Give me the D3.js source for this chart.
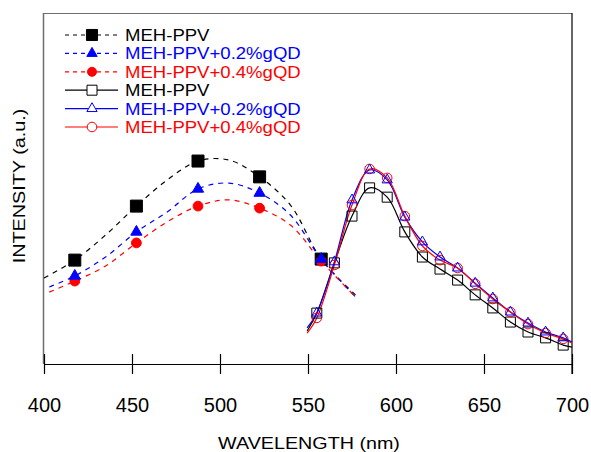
<!DOCTYPE html>
<html lang="en">
<head>
<meta charset="UTF-8">
<title>MEH-PPV absorption / PL</title>
<script src="https://d3js.org/d3.v7.min.js"></script>
<style>
    body, html {
        margin: 0;
        padding: 0;
        background: #fff;
        overflow: hidden;
    }
    svg text {
        font-family: "Liberation Sans", Arial, sans-serif;
    }
</style>
</head>
<body>
<div id="chart"></div>
<script>
// absorption spectra (dashed, filled markers)
const absWlPure = [400, 417.5, 435, 452.5, 470, 487.5, 505, 522.5, 540, 557.5, 577];
const absWlDoped = [403, 417.5, 435, 452.5, 470, 487.5, 505, 522.5, 540, 557.5, 577];
const absPure = [25.0, 30.2, 37.5, 45.9, 53.5, 59.0, 59.3, 54.4, 46.2, 30.5, 20.1];
const absQd02 = [22.4, 25.6, 31.1, 38.4, 44.2, 50.9, 52.6, 49.7, 43.3, 30.5, 19.5];
const absQd04 = [20.9, 24.1, 28.5, 35.2, 41.3, 45.9, 47.7, 45.3, 40.4, 29.9, 19.5];
const absMarkers = [417.5, 452.5, 487.5, 522.5, 557.5];

// photoluminescence spectra (solid, open markers)
const plWl = [549.5, 555, 565, 575, 585, 595, 605, 615, 625, 635, 645, 655, 665, 675, 685, 695, 700];
const plPure = [9.6, 14.8, 29.4, 43.0, 51.2, 48.5, 38.4, 31.1, 27.6, 24.4, 20.1, 16.3, 12.2, 9.3, 7.6, 5.5, 4.9];
const plQd02 = [10.5, 14.8, 29.7, 47.7, 56.4, 53.5, 42.7, 35.5, 31.1, 27.9, 23.5, 19.2, 15.1, 11.9, 9.3, 7.6, 6.4];
const plQd04 = [9.0, 13.4, 28.8, 46.2, 56.7, 54.1, 43.0, 34.3, 30.2, 27.9, 23.3, 18.9, 15.1, 11.6, 9.0, 7.3, 6.1];
const plMarkers = [555, 565, 575, 585, 595, 605, 615, 625, 635, 645, 655, 665, 675, 685, 695];

const xTicks = [400, 450, 500, 550, 600, 650, 700];

const width = 591, height = 452;
const plotTop = 13;

const svg = d3.select("#chart").append("svg")
    .attr("width", width)
    .attr("height", height);

const x = d3.scaleLinear().domain([400, 700]).range([44, 572]);
const y = d3.scaleLinear().domain([0, 100]).range([364, 20]);

const zip = (wl, v) => wl.map((w, i) => ({ wl: w, v: v[i] }));

const series = [
    { label: "MEH-PPV", color: "#000", data: zip(absWlPure, absPure), marks: absMarkers, dashed: true, sym: d3.symbolSquare, size: 144, filled: true },
    { label: "MEH-PPV+0.2%gQD", color: "#0000ff", data: zip(absWlDoped, absQd02), marks: absMarkers, dashed: true, sym: d3.symbolTriangle, size: 55, filled: true },
    { label: "MEH-PPV+0.4%gQD", color: "#ff0000", data: zip(absWlDoped, absQd04), marks: absMarkers, dashed: true, sym: d3.symbolCircle, size: 75, filled: true },
    { label: "MEH-PPV", color: "#000", data: zip(plWl, plPure), marks: plMarkers, dashed: false, sym: d3.symbolSquare, size: 100, filled: false },
    { label: "MEH-PPV+0.2%gQD", color: "#0000ff", data: zip(plWl, plQd02), marks: plMarkers, dashed: false, sym: d3.symbolTriangle, size: 45, filled: false },
    { label: "MEH-PPV+0.4%gQD", color: "#ff0000", data: zip(plWl, plQd04), marks: plMarkers, dashed: false, sym: d3.symbolCircle, size: 72, filled: false }
];

// frame (top/left grey, right black)
svg.append("line")
    .attr("x1", x(400)).attr("x2", x(700))
    .attr("y1", plotTop + 0.5).attr("y2", plotTop + 0.5)
    .style("stroke", "#6e6e6e");
svg.append("line")
    .attr("x1", x(400) - 0.5).attr("x2", x(400) - 0.5)
    .attr("y1", plotTop).attr("y2", y(0))
    .style("stroke", "#6e6e6e").style("stroke-width", 1.5);
svg.append("line")
    .attr("x1", x(700)).attr("x2", x(700))
    .attr("y1", plotTop).attr("y2", y(0) + 10)
    .style("stroke", "#000").style("stroke-width", 1.2);

// x axis, ticks cross the line
const xAxis = svg.append("g")
    .attr("transform", `translate(0,${y(0)})`)
    .call(d3.axisBottom(x).tickValues(xTicks).tickSizeInner(10).tickSizeOuter(0).tickPadding(0));
xAxis.select(".domain").style("stroke", "#000").style("stroke-width", 1.2);
xAxis.selectAll(".tick line").attr("y1", -10).attr("y2", 10).style("stroke", "#000").style("stroke-width", 1.2);
xAxis.selectAll(".tick text")
    .attr("y", 47.5).attr("dy", null)
    .style("font-size", "20px")
    .style("font-family", "'Liberation Sans', Arial, sans-serif")
    .style("fill", "#000");

// axis titles
svg.append("text")
    .attr("transform", `translate(309,449) scale(1.16,1)`)
    .attr("text-anchor", "middle")
    .style("font-size", "17px")
    .text("WAVELENGTH (nm)");

svg.append("text")
    .attr("transform", `translate(25,186) rotate(-90) scale(1.2,1)`)
    .attr("text-anchor", "middle")
    .style("font-size", "16.5px")
    .text("INTENSITY (a.u.)");

// curves
const line = d3.line()
    .x(d => x(d.wl))
    .y(d => y(d.v))
    .curve(d3.curveCatmullRom.alpha(0.5));

series.forEach(s => {
    svg.append("path")
        .datum(s.data)
        .attr("d", line)
        .style("fill", "none")
        .style("stroke", s.color)
        .style("stroke-width", 1.2)
        .style("stroke-dasharray", s.dashed ? "5,5" : null);
});

// markers: black, red, blue so blue ends on top
[0, 2, 1, 3, 5, 4].forEach(k => {
    const s = series[k];
    const pts = s.data.filter(d => s.marks.includes(d.wl));
    svg.append("g").selectAll("path")
        .data(pts)
        .join("path")
        .attr("transform", d => `translate(${x(d.wl)},${y(d.v)})`)
        .attr("d", d3.symbol().type(s.sym).size(s.size))
        .style("fill", s.filled ? s.color : "none")
        .style("stroke", s.color)
        .style("stroke-width", 1);
});

// legend
const legend = svg.append("g");
const rowY = d => 35 + d * 18.4;
series.forEach((s, i) => {
    const g = legend.append("g").attr("transform", `translate(0,${rowY(i)})`);
    g.append("line")
        .attr("x1", 65).attr("x2", 118)
        .style("stroke", s.color)
        .style("stroke-width", 1.2)
        .style("stroke-dasharray", s.dashed ? "4,4" : null);
    g.append("path")
        .attr("transform", "translate(92,0)")
        .attr("d", d3.symbol().type(s.sym).size(s.filled ? s.size * 0.85 : s.size))
        .style("fill", s.filled ? s.color : "#fff")
        .style("stroke", s.color)
        .style("stroke-width", 1);
    g.append("text")
        .attr("transform", "translate(125,6) scale(1.16,1)")
        .style("font-size", "16px")
        .style("fill", s.color)
        .text(s.label);
});
</script>
</body>
</html>
